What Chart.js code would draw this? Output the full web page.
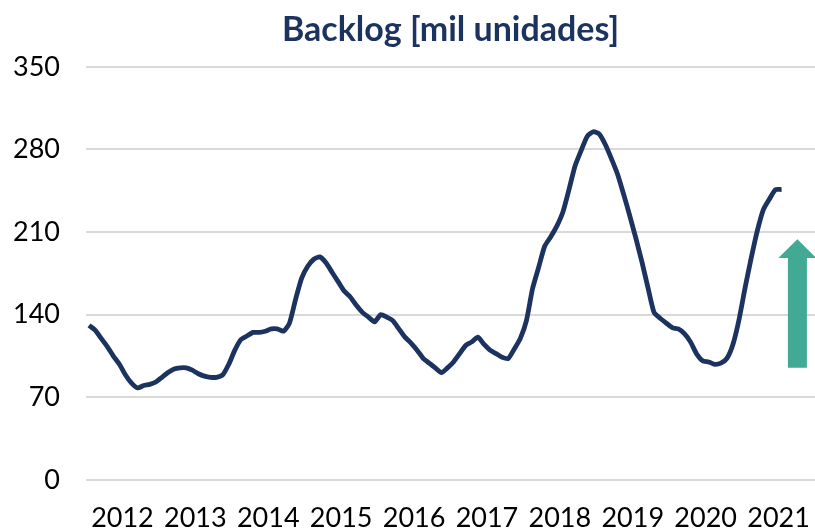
<!DOCTYPE html>
<html>
<head>
<meta charset="utf-8">
<title>Backlog</title>
<script src="https://cdn.jsdelivr.net/npm/chart.js@4.4.1/dist/chart.umd.min.js"></script>
<style>
    html, body { margin: 0; padding: 0; background: #ffffff; }
    #wrap { width: 815px; height: 530px; }
</style>
</head>
<body>
<div id="wrap"><canvas id="backlog"></canvas></div>
<script>
// Backlog, thousand units, monthly from Jan 2012
var backlog = [
    131, 127, 120, 113, 105, 98, 89, 82, 78, 80, 81, 83,
    87, 91, 94, 95, 95, 93, 90, 88, 87, 87, 89, 98,
    110, 119, 122, 125, 125, 126, 128, 128, 126, 133, 153, 171,
    181, 187, 189, 184, 176, 168, 160, 155, 148, 142, 138, 134,
    140, 138, 135, 128, 121, 116, 110, 103, 99, 95, 91, 95,
    100, 107, 114, 117, 121, 115, 110, 107, 104, 103, 111, 120,
    135, 162, 180, 198, 206, 215, 227, 246, 266, 279, 291, 295,
    293, 284, 272, 259, 242, 224, 205, 185, 163, 142, 137, 133,
    129, 128, 124, 117, 107, 101, 100, 98, 99, 103, 115, 136,
    163, 188, 211, 229, 238, 246, 246
];
var years = ["2012", "2013", "2014", "2015", "2016", "2017", "2018", "2019", "2020", "2021"];
var yTicks = [0, 70, 140, 210, 280, 350];

var fontFamily = "Lato, 'Open Sans', sans-serif";
var navy = "#1c335f";

// arrow on the right side, in axis units (month, value)
var arrowPlugin = {
    id: "upArrow",
    afterDatasetsDraw: function(chart)
    {
        var xs = chart.scales.x, ys = chart.scales.y;
        var ctx = chart.ctx;
        var cx = xs.getPixelForValue(117.1);
        var yBottom = ys.getPixelForValue(95);
        var yNeck = ys.getPixelForValue(188);
        var yTip = ys.getPixelForValue(204);
        var shaft = 9.5, head = 19;

        ctx.save();
        ctx.fillStyle = "#41a994";
        ctx.beginPath();
        ctx.moveTo(cx - shaft, yBottom);
        ctx.lineTo(cx - shaft, yNeck);
        ctx.lineTo(cx - head, yNeck);
        ctx.lineTo(cx, yTip);
        ctx.lineTo(cx + head, yNeck);
        ctx.lineTo(cx + shaft, yNeck);
        ctx.lineTo(cx + shaft, yBottom);
        ctx.closePath();
        ctx.fill();
        ctx.restore();
    }
};

var points = backlog.map(function(v, i){
    return {x: i + 0.5, y: v};
});

new Chart(document.getElementById("backlog"), {
    type: "line",
    data: {
        datasets: [{
            data: points,
            borderColor: navy,
            borderWidth: 4.8,
            pointRadius: 0,
            tension: 0.2,
            fill: false,
            clip: false
        }]
    },
    options: {
        responsive: true,
        maintainAspectRatio: false,
        animation: false,
        layout: { padding: 0 },
        plugins: {
            legend: { display: false },
            tooltip: { enabled: false },
            title: {
                display: true,
                fullSize: false,
                text: "Backlog [mil unidades]",
                color: navy,
                font: { family: fontFamily, size: 34, weight: "bold", lineHeight: 1.2 },
                padding: { top: 10, bottom: 16 }
            }
        },
        scales: {
            x: {
                type: "linear",
                min: 0,
                max: 120,
                grid: { display: false, drawTicks: false },
                border: { display: false },
                afterBuildTicks: function(scale){
                    scale.ticks = years.map(function(y, i){ return {value: i * 12 + 6}; });
                },
                afterFit: function(scale){
                    scale.height = 50;
                    // the year labels fit inside the plot, no side padding needed
                    scale.paddingLeft = 0;
                    scale.paddingRight = 0;
                },
                ticks: {
                    autoSkip: false,
                    maxRotation: 0,
                    padding: 22,
                    color: "#000000",
                    font: { family: fontFamily, size: 27 },
                    callback: function(value){
                        return years[Math.round((value - 6) / 12)];
                    }
                }
            },
            y: {
                min: 0,
                max: 350,
                grid: { color: "#d9d9d9", lineWidth: 2, drawTicks: false },
                border: { display: false },
                afterBuildTicks: function(scale){
                    scale.ticks = yTicks.map(function(v){ return {value: v}; });
                },
                afterFit: function(scale){ scale.width = 86; },
                ticks: {
                    padding: 26,
                    color: "#000000",
                    font: { family: fontFamily, size: 27 }
                }
            }
        }
    },
    plugins: [arrowPlugin]
});
</script>
</body>
</html>
